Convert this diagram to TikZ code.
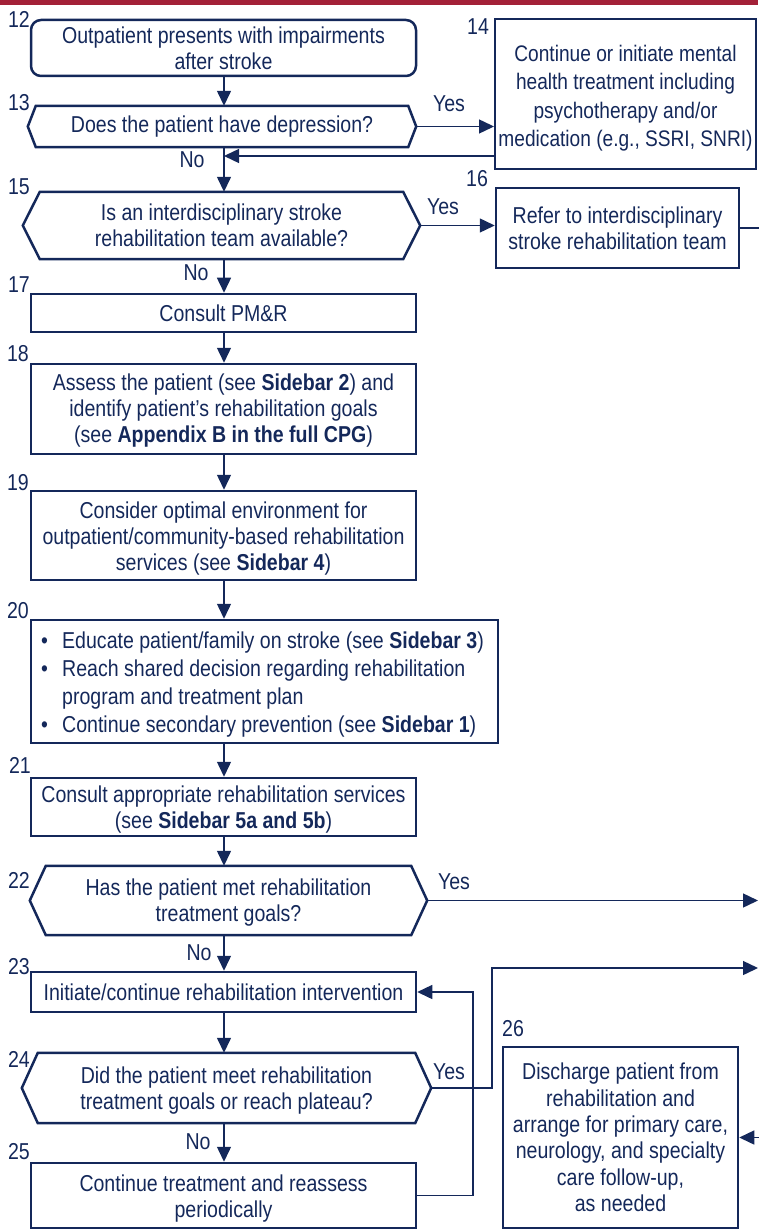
\documentclass[tikz,border=0pt]{standalone}
\usepackage{fontspec}
\setmainfont{Liberation Sans}[FakeStretch=0.85]
\usetikzlibrary{arrows.meta}
\definecolor{navy}{RGB}{20,40,90}
\definecolor{barred}{RGB}{163,33,56}
\newcommand\hexpath[2]{\draw[navy, line width=2.5pt, line join=miter] (#1.west) -- ([xshift=#2pt]#1.north west) -- ([xshift=-#2pt]#1.north east) -- (#1.east) -- ([xshift=-#2pt]#1.south east) -- ([xshift=#2pt]#1.south west) -- cycle;}
\begin{document}
\begin{tikzpicture}[x=1pt,y=-1pt,
  every node/.style={text=navy, font=\fontsize{23}{26}\selectfont, inner sep=0pt},
  box/.style={draw=navy, line width=2.5pt, align=center},
  hexa/.style={align=center},
  txt/.style={align=center},
  arr/.style={draw=navy, line width=1.4pt, -{Triangle[length=15pt,width=14pt]}},
  ln/.style={draw=navy, line width=1.4pt},
]
\useasboundingbox (0,0) rectangle (758,1230);
\fill[barred] (0,0) rectangle (758,5);
\coordinate (col) at (224,0);

% nodes
\node[box, rounded corners=10pt, minimum width=385pt, minimum height=56pt] (n12) at (223.5,48) {Outpatient presents with impairments\\after stroke};
\node[hexa, minimum width=388pt, minimum height=41pt] (q13) at (222,126.5) {Does the patient have depression?};
\hexpath{q13}{8}
\node[box, line width=2pt, minimum width=261pt, minimum height=150pt] (n14) at (625.5,94) {};
\node[txt, font=\fontsize{22.5}{28.5}\selectfont] (t14) at ([yshift=-4pt]n14.center) {Continue or initiate mental\\health treatment including\\psychotherapy and/or\\medication (e.g., SSRI, SNRI)};
\node[hexa, minimum width=397pt, minimum height=67pt] (q15) at (221.5,225.5) {Is an interdisciplinary stroke\\rehabilitation team available?};
\hexpath{q15}{17}
\node[box, minimum width=243pt, minimum height=80pt] (n16) at (617.5,228) {Refer to interdisciplinary\\stroke rehabilitation team};
\node[box, minimum width=385pt, minimum height=38pt] (n17) at (223.5,313) {Consult PM\&R};
\node[box, minimum width=385pt, minimum height=90pt] (n18) at (223.5,409) {};
\node[txt] (t18) at ([yshift=-2pt]n18.center) {Assess the patient (see \textbf{Sidebar 2}) and\\identify patient’s rehabilitation goals\\(see \textbf{Appendix B in the full CPG})};
\node[box, minimum width=385pt, minimum height=89pt] (n19) at (223.5,535.5) {};
\node[txt] (t19) at ([yshift=-3.5pt]n19.center) {Consider optimal environment for\\outpatient/community-based rehabilitation\\services (see \textbf{Sidebar 4})};
\node[box, minimum width=467pt, minimum height=123pt] (n20) at (264.5,681.5) {};
\node[anchor=west, align=left, font=\fontsize{23}{28}\selectfont] (t20) at (41,685) {\makebox[21pt][l]{\textbullet}Educate patient/family on stroke (see \textbf{Sidebar 3})\\\makebox[21pt][l]{\textbullet}Reach shared decision regarding rehabilitation\\\hspace*{21pt}program and treatment plan\\\makebox[21pt][l]{\textbullet}Continue secondary prevention (see \textbf{Sidebar 1})};
\node[box, minimum width=385pt, minimum height=58pt] (n21) at (223.5,807) {};
\node[txt] (t21) at ([yshift=-3pt]n21.center) {Consult appropriate rehabilitation services\\(see \textbf{Sidebar 5a and 5b})};
\node[hexa, minimum width=397pt, minimum height=69pt] (q22) at (228.5,900.5) {};
\hexpath{q22}{16}
\node[txt] (t22) at ([yshift=-2pt]q22.center) {Has the patient met rehabilitation\\treatment goals?};
\node[box, minimum width=385pt, minimum height=40pt] (n23) at (223.5,992) {Initiate/continue rehabilitation intervention};
\node[hexa, minimum width=409pt, minimum height=70pt] (q24) at (226.5,1088) {};
\hexpath{q24}{16}
\node[txt] (t24) at ([yshift=-3pt]q24.center) {Did the patient meet rehabilitation\\treatment goals or reach plateau?};
\node[box, minimum width=385pt, minimum height=65pt] (n25) at (223.5,1195.5) {};
\node[txt] (t25) at ([yshift=-3pt]n25.center) {Continue treatment and reassess\\periodically};
\node[box, minimum width=235pt, minimum height=181pt, font=\fontsize{23}{26.4}\selectfont] (n26) at (620.5,1137.5) {Discharge patient from\\rehabilitation and\\arrange for primary care,\\neurology, and specialty\\care follow-up,\\as needed};

% step numbers
\node (l12) at (19,19) {12};
\node (l13) at (19,103) {13};
\node (l14) at (478,27) {14};
\node (l15) at (19,187) {15};
\node (l16) at (477,179) {16};
\node (l17) at (19,285) {17};
\node (l18) at (18,354) {18};
\node (l19) at (18,483) {19};
\node (l20) at (18,611) {20};
\node (l21) at (20,765) {21};
\node (l22) at (19,880) {22};
\node (l23) at (19,967) {23};
\node (l24) at (19,1059) {24};
\node (l25) at (19,1152) {25};
\node (l26) at (513,1029) {26};

% Yes / No labels
\node (y13) at (449,104) {Yes};
\node (y15) at (443,207) {Yes};
\node (y22) at (454,882) {Yes};
\node (y24) at (449,1072) {Yes};
\node (no13) at (192,160) {No};
\node (no15) at (196,273) {No};
\node (no22) at (199,953) {No};
\node (no24) at (198,1142) {No};

% connectors
\coordinate (j13) at (224,156);
\coordinate (e16) at (760,228);
\coordinate (e22) at (758,900.5);
\coordinate (e24) at (758,968);
\coordinate (k24) at (492,968);
\coordinate (k25) at (473,0);
\coordinate (e26) at (760,1137.5);

\draw[arr] (n12.south -| col) -- (q13.north -| col);
\draw[arr] (q13.east) -- (q13.east -| n14.west);
\draw[arr] (n14.west |- j13) -- (j13);
\draw[arr] (q13.south -| col) -- (q15.north -| col);
\draw[arr] (q15.east) -- (q15.east -| n16.west);
\draw[ln] (n16.east) -- (e16);
\draw[arr] (q15.south -| col) -- (n17.north -| col);
\draw[arr] (n17.south -| col) -- (n18.north -| col);
\draw[arr] (n18.south -| col) -- (n19.north -| col);
\draw[arr] (n19.south -| col) -- (n20.north -| col);
\draw[arr] (n20.south -| col) -- (n21.north -| col);
\draw[arr] (n21.south -| col) -- (q22.north -| col);
\draw[arr] (q22.east) -- (e22);
\draw[arr] (q22.south -| col) -- (n23.north -| col);
\draw[arr] (n23.south -| col) -- (q24.north -| col);
\draw[arr] (q24.east) -| (k24) -- (e24);
\draw[arr] (q24.south -| col) -- (n25.north -| col);
\draw[arr] (n25.east) -- (n25.east -| k25) -- (n23.east -| k25) -- (n23.east);
\draw[arr] (e26) -- (n26.east);
\end{tikzpicture}
\end{document}
